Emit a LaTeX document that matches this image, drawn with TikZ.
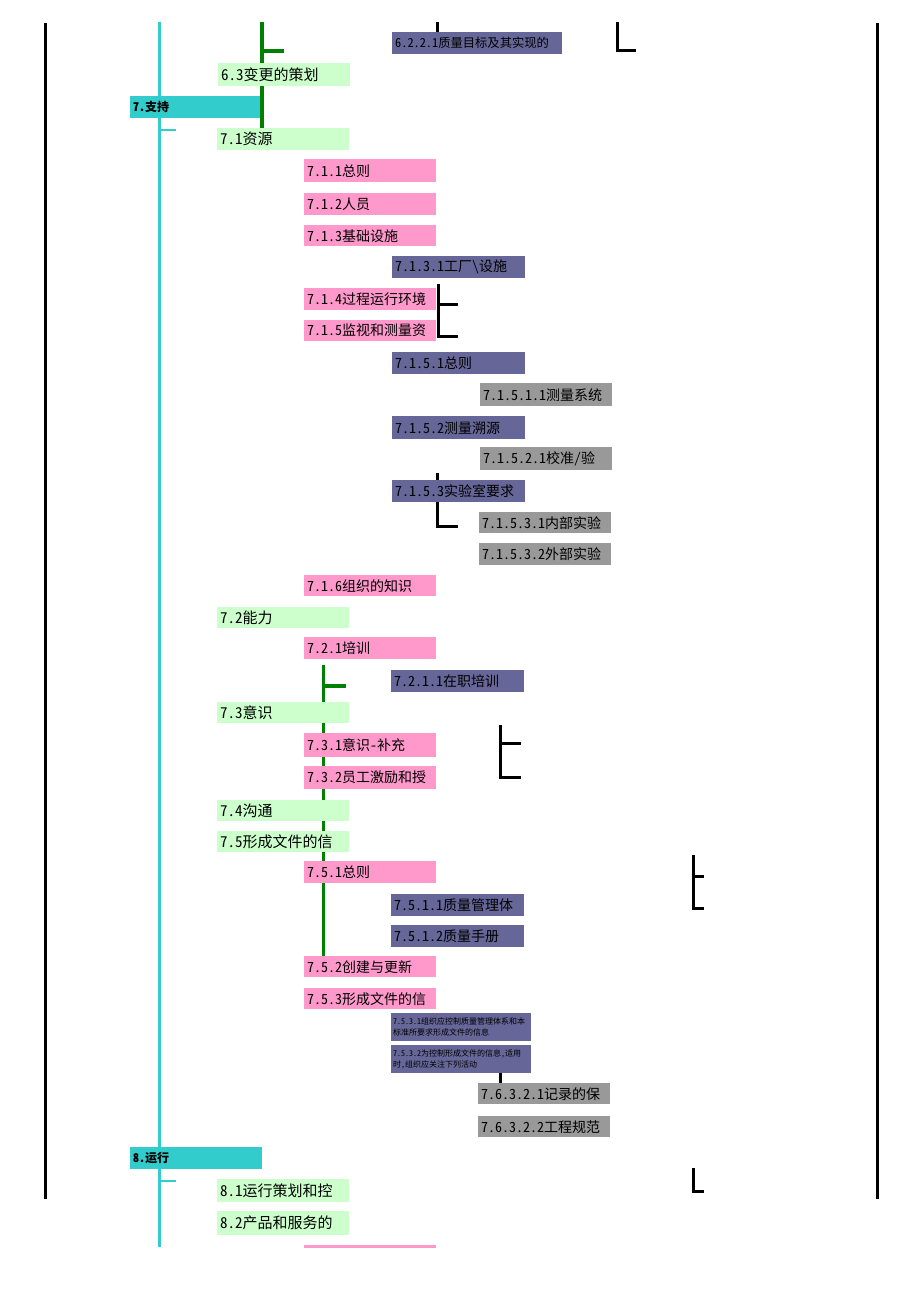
\documentclass[tikz,border=0pt]{standalone}
\usepackage{fontspec}
\newfontfamily\cjk[RawFeature=+hwid]{Noto Sans CJK SC}
\definecolor{cyanc}{HTML}{33CCCC}
\definecolor{greenl}{HTML}{CCFFCC}
\definecolor{pinkc}{HTML}{FF99CC}
\definecolor{purp}{HTML}{666699}
\definecolor{grayc}{HTML}{999999}
\definecolor{greend}{HTML}{008000}
\begin{document}
\begin{tikzpicture}[x=1pt,y=-1pt,
  bx/.style={anchor=north west, inner xsep=3pt, inner ysep=0pt, text width=126pt, align=left, minimum height=22pt, text=black},
  gbox/.style={bx, fill=greenl, font=\cjk\fontsize{15}{17}\selectfont},
  pbox/.style={bx, fill=pinkc, font=\cjk\fontsize{14}{16}\selectfont},
  ubox/.style={bx, fill=purp, text width=127pt, font=\cjk\fontsize{14}{16}\selectfont},
  ybox/.style={bx, fill=grayc, font=\cjk\fontsize{14}{16}\selectfont},
  cbox/.style={bx, fill=cyanc, font=\cjk\bfseries\fontsize{12}{14}\selectfont},
  tbox/.style={bx, fill=purp, inner xsep=2pt, text width=136pt, minimum height=28pt, font=\cjk\fontsize{8}{11}\selectfont},
  bl/.style={line width=3pt, black},
  gl/.style={line width=3.5pt, greend},
  cl/.style={line width=2.7pt, cyanc}]
\useasboundingbox (0,0) rectangle (920,1301);

% outer black bars
\coordinate (lbT) at (45.5,23); \coordinate (lbB) at (45.5,1199);
\coordinate (rbT) at (877.5,23); \coordinate (rbB) at (877.5,1199);
\draw[bl] (lbT) -- (lbB);
\draw[bl] (rbT) -- (rbB);

% cyan spine
\coordinate (cT) at (159.7,22); \coordinate (cB) at (159.7,1247);
\draw[cl] (cT) -- (cB);
\coordinate (ct1a) at (159.7,130); \coordinate (ct1b) at (176,130);
\draw[cl] (ct1a) -- (ct1b);
\coordinate (ct2a) at (159.7,1181); \coordinate (ct2b) at (176,1181);
\draw[cl] (ct2a) -- (ct2b);

% cyan boxes
\node[cbox, minimum height=22pt] (s7) at (130,96) {7.支持};
\node[cbox, minimum height=22pt] (s8) at (130,1147) {8.运行};

% green lines
\coordinate (g1T) at (262,22); \coordinate (g1B) at (262,128);
\draw[gl] (g1T) -- (g1B);
\coordinate (g1ta) at (262,51); \coordinate (g1tb) at (284,51);
\draw[gl] (g1ta) -- (g1tb);
\coordinate (g2T) at (323.5,665); \coordinate (g2B) at (323.5,956);
\draw[gl] (g2T) -- (g2B);
\coordinate (g2ta) at (323.5,686); \coordinate (g2tb) at (345.5,686);
\draw[gl] (g2ta) -- (g2tb);

% black brackets
\coordinate (k1a) at (437,22); \coordinate (k1b) at (437,32);
\draw[bl] (k1a) -- (k1b);
\coordinate (L1a) at (617,22); \coordinate (L1b) at (617,50.5); \coordinate (L1c) at (636,50.5);
\draw[bl] (L1a) -- (L1b) -- (L1c);
\coordinate (k2a) at (438,284); \coordinate (k2b) at (438,336); \coordinate (k2c) at (458,336);
\coordinate (k2d) at (438,304); \coordinate (k2e) at (458,304);
\draw[bl] (k2a) -- (k2b) -- (k2c);
\draw[bl] (k2d) -- (k2e);
\coordinate (k3a) at (437,473); \coordinate (k3b) at (437,526); \coordinate (k3c) at (458,526);
\draw[bl] (k3a) -- (k3b) -- (k3c);
\coordinate (k4a) at (500,725); \coordinate (k4b) at (500,777); \coordinate (k4c) at (521,777);
\coordinate (k4d) at (500,743); \coordinate (k4e) at (521,743);
\draw[bl] (k4a) -- (k4b) -- (k4c);
\draw[bl] (k4d) -- (k4e);
\coordinate (k5a) at (693.5,855); \coordinate (k5b) at (693.5,908.5); \coordinate (k5c) at (704,908.5);
\coordinate (k5d) at (693.5,876); \coordinate (k5e) at (704,876);
\draw[bl] (k5a) -- (k5b) -- (k5c);
\draw[bl] (k5d) -- (k5e);
\coordinate (k6a) at (500,1073); \coordinate (k6b) at (500,1083);
\draw[bl] (k6a) -- (k6b);
\coordinate (L2a) at (693.5,1168); \coordinate (L2b) at (693.5,1191); \coordinate (L2c) at (704,1191);
\draw[bl] (L2a) -- (L2b) -- (L2c);

% green boxes
\node[gbox, minimum height=23pt] (n63) at (218,63) {6.3变更的策划};
\node[gbox, minimum height=22pt] (n71) at (217,128) {7.1资源};
\node[gbox, minimum height=21pt] (n72) at (217,607) {7.2能力};
\node[gbox, minimum height=21pt] (n73) at (217,702) {7.3意识};
\node[gbox, minimum height=21pt] (n74) at (217,800) {7.4沟通};
\node[gbox, minimum height=21pt] (n75) at (217,831) {7.5形成文件的信};
\node[gbox, minimum height=23pt] (n81) at (217,1179) {8.1运行策划和控};
\node[gbox, minimum height=24pt] (n82) at (217,1211) {8.2产品和服务的};

% pink boxes
\node[pbox, minimum height=23pt] (n711) at (304,159) {7.1.1总则};
\node[pbox, minimum height=22pt] (n712) at (304,193) {7.1.2人员};
\node[pbox, minimum height=21pt] (n713) at (304,225) {7.1.3基础设施};
\node[pbox, minimum height=22pt] (n714) at (304,288) {7.1.4过程运行环境};
\node[pbox, minimum height=21pt] (n715) at (304,320) {7.1.5监视和测量资};
\node[pbox, minimum height=21pt] (n716) at (304,575) {7.1.6组织的知识};
\node[pbox, minimum height=22pt] (n721) at (304,637) {7.2.1培训};
\node[pbox, minimum height=24pt] (n731) at (304,733) {7.3.1意识-补充};
\node[pbox, minimum height=23pt] (n732) at (304,766) {7.3.2员工激励和授};
\node[pbox, minimum height=22pt] (n751) at (304,861) {7.5.1总则};
\node[pbox, minimum height=21pt] (n752) at (304,956) {7.5.2创建与更新};
\node[pbox, minimum height=21pt] (n753) at (304,988) {7.5.3形成文件的信};
\node[fill=pinkc, anchor=north west, inner sep=0pt, minimum width=132pt, minimum height=3pt] (nstrip) at (304,1245) {};

% purple boxes
\node[ubox, text width=164pt, minimum height=22pt, font=\cjk\fontsize{12.3}{14}\selectfont] (n6221) at (392,32) {6.2.2.1质量目标及其实现的};
\node[ubox, minimum height=22pt] (n7131) at (392,256) {7.1.3.1工厂\textbackslash 设施};
\node[ubox, minimum height=22pt] (n7151) at (392,352) {7.1.5.1总则};
\node[ubox, minimum height=23pt] (n7152) at (392,416) {7.1.5.2测量溯源};
\node[ubox, minimum height=22pt] (n7153) at (392,480) {7.1.5.3实验室要求};
\node[ubox, minimum height=22pt] (n7211) at (391,670) {7.2.1.1在职培训};
\node[ubox, minimum height=22pt] (n7511) at (391,894) {7.5.1.1质量管理体};
\node[ubox, minimum height=22pt] (n7512) at (391,925) {7.5.1.2质量手册};
\node[tbox] (n7531) at (391,1013) {7.5.3.1组织应控制质量管理体系和本\\标准所要求形成文件的信息};
\node[tbox] (n7532) at (391,1045) {7.5.3.2为控制形成文件的信息，适用\\时，组织应关注下列活动};

% gray boxes
\node[ybox, minimum height=23pt] (n71511) at (480,383) {7.1.5.1.1测量系统};
\node[ybox, minimum height=23pt] (n71521) at (480,447) {7.1.5.2.1校准/验};
\node[ybox, minimum height=21pt] (n71531) at (479,512) {7.1.5.3.1内部实验};
\node[ybox, minimum height=22pt] (n71532) at (479,543) {7.1.5.3.2外部实验};
\node[ybox, minimum height=21pt] (n76321) at (478,1083) {7.6.3.2.1记录的保};
\node[ybox, minimum height=21pt] (n76322) at (478,1116) {7.6.3.2.2工程规范};
\end{tikzpicture}
\end{document}
